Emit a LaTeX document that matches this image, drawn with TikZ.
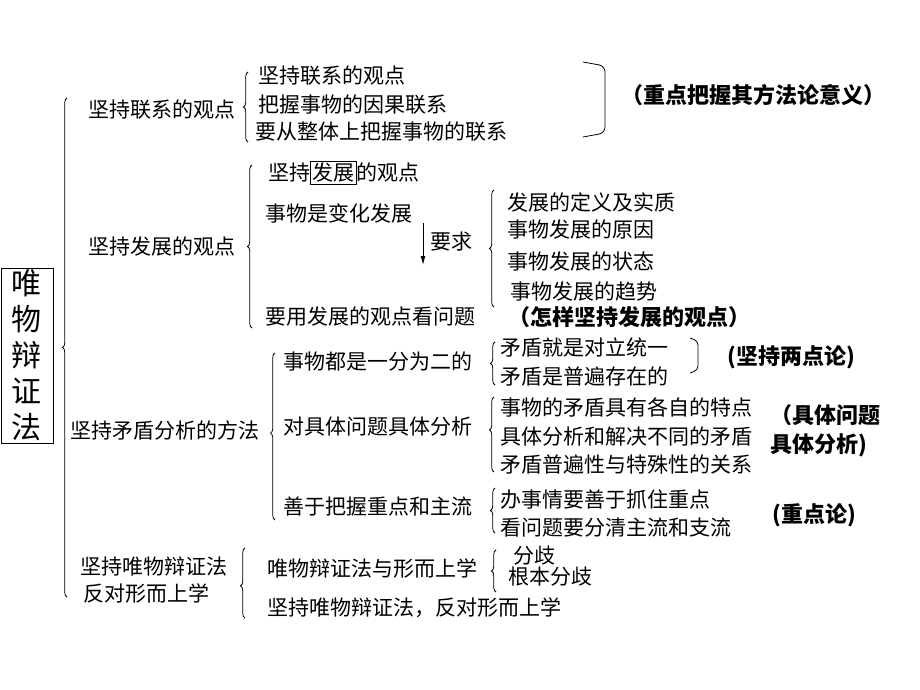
\documentclass[tikz,border=0pt]{standalone}
\usepackage{fontspec}
\setmainfont{Noto Sans CJK SC}
\usetikzlibrary{decorations.pathreplacing,arrows.meta}
\begin{document}
\begin{tikzpicture}[x=1pt,y=-1pt,
  txt/.style={anchor=west,inner sep=0pt,font=\fontsize{21}{21}\selectfont},
  note/.style={anchor=west,inner sep=0pt,font=\fontsize{22}{22}\selectfont\bfseries},
  br/.style={decorate,decoration={brace,amplitude=4.5pt,aspect=#1},line width=0.8pt},
  br/.default=0.5,
  rb/.style={rounded corners=6pt,line width=0.8pt},
  rootbox/.style={draw,line width=0.8pt,inner sep=0pt,minimum width=52pt,minimum height=175pt,align=center,font=\fontsize{30}{36}\selectfont}]
\useasboundingbox (0,0) rectangle (920,690);
% root
\node[rootbox] (root) at (27,355.5) {唯\\物\\辩\\证\\法};
% level 1
\node[txt] (l1) at (88,110) {坚持联系的观点};
\node[txt] (l2) at (88,247) {坚持发展的观点};
\node[txt] (l3) at (70,430) {坚持矛盾分析的方法};
\node[txt] (l4a) at (80,567) {坚持唯物辩证法};
\node[txt] (l4b) at (83,593) {反对形而上学};
% group 1
\node[txt] (a1) at (258,76) {坚持联系的观点};
\node[txt] (a2) at (258,105) {把握事物的因果联系};
\node[txt] (a3) at (255,132) {要从整体上把握事物的联系};
\node[note] (n1) at (621,95) {（重点把握其方法论意义）};
% group 2
\setlength{\fboxsep}{1.5pt}\setlength{\fboxrule}{0.7pt}
\node[txt] (b1) at (268,173) {坚持\fbox{发展}的观点};
\node[txt] (b2) at (265,213) {事物是变化发展};
\node[txt] (b3) at (265,317) {要用发展的观点看问题};
\node[txt] (req) at (430,242) {要求};
\node[txt] (c1) at (507,202) {发展的定义及实质};
\node[txt] (c2) at (507,230) {事物发展的原因};
\node[txt] (c3) at (507,262) {事物发展的状态};
\node[txt] (c4) at (510,292) {事物发展的趋势};
\node[note] (n2) at (508,317) {（怎样坚持发展的观点）};
% group 3
\node[txt] (d1) at (283,362) {事物都是一分为二的};
\node[txt] (d2) at (283,427) {对具体问题具体分析};
\node[txt] (d3) at (283,507) {善于把握重点和主流};
\node[txt] (e1) at (500,347) {矛盾就是对立统一};
\node[txt] (e2) at (500,377) {矛盾是普遍存在的};
\node[txt] (f1) at (500,407) {事物的矛盾具有各自的特点};
\node[txt] (f2) at (500,437) {具体分析和解决不同的矛盾};
\node[txt] (f3) at (500,465) {矛盾普遍性与特殊性的关系};
\node[txt] (g1) at (500,500) {办事情要善于抓住重点};
\node[txt] (g2) at (500,528) {看问题要分清主流和支流};
\node[note] (n3) at (727,357) {(坚持两点论)};
\node[note] (n4a) at (770,415) {（具体问题};
\node[note] (n4b) at (770,445) {具体分析)};
\node[note] (n5) at (772,515) {(重点论)};
% group 4
\node[txt] (h1) at (267,568) {唯物辩证法与形而上学};
\node[txt] (h2) at (267,608) {坚持唯物辩证法，反对形而上学};
\node[txt] (i1) at (513,556) {分歧};
\node[txt] (i2) at (508,577) {根本分歧};
% braces
\draw[br] (67,597) -- (67,98);
\draw[br] (248,142) -- (248,72);
\draw[br] (252,328) -- (252,165);
\draw[br] (494,307) -- (494,190);
\draw[br=0.52] (275,520) -- (275,353);
\draw[br] (495,385) -- (495,342);
\draw[br=0.56] (494,472) -- (494,397);
\draw[br] (495,533) -- (495,488);
\draw[br=0.46] (245,618) -- (245,548);
\draw[br] (496,592) -- (496,550);
% right brackets
\draw[rb] (583,62) -- (605,66) -- (605,133) -- (583,137);
\draw[rb,rounded corners=4pt] (690,338) -- (698,341) -- (698,370) -- (690,373);
% arrow
\coordinate (arrS) at (423,223);
\coordinate (arrE) at (423,265);
\draw[line width=1pt,-{Latex[length=9pt,width=5pt]}] (arrS) -- (arrE);
\end{tikzpicture}
\end{document}
